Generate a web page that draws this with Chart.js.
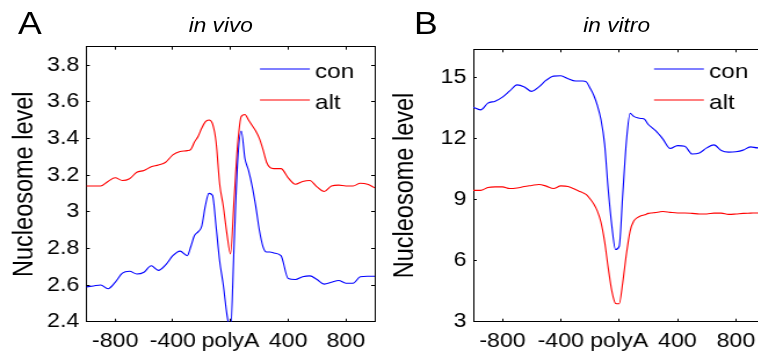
<!DOCTYPE html>
<html>
<head>
<meta charset="utf-8">
<script src="https://cdn.jsdelivr.net/npm/chart.js@4.4.0/dist/chart.umd.min.js"></script>
<style>
  html, body { margin: 0; padding: 0; background: #fff; }
  body { width: 758px; height: 356px; overflow: hidden; position: relative; }
  /* the source figure is stretched sideways, so the whole stage is too */
  #stage { position: absolute; left: 0; top: 0; width: 680px; height: 356px;
           transform: scaleX(1.16); transform-origin: 0 0;
           font-family: "Liberation Sans", Arial, sans-serif; color: #000; }
  #stage canvas { position: absolute; top: 0; }
  .panel { position: absolute; font-size: 30.7px; line-height: 1; }
  .title { position: absolute; width: 200px; text-align: center; font-style: italic; font-size: 19.5px; line-height: 1; }
</style>
</head>
<body>
<div id="stage">
  <div class="panel" style="left:15.5px; top:9px">A</div>
  <div class="title" style="left:90.3px; top:15.8px">in vivo</div>
  <canvas id="vivo" width="328" height="356" style="left:0"></canvas>
  <div class="panel" style="left:357px; top:9px">B</div>
  <div class="title" style="left:431.6px; top:15.8px">in vitro</div>
  <canvas id="vitro" width="345" height="356" style="left:328px"></canvas>
</div>
<script>
// distance to the polyA site (bp)
const pos = [-1000, -950, -900, -850, -800, -750, -700, -650, -600, -550, -500, -450, -400, -350, -300,
  -275, -250, -225, -200, -175, -150, -125, -100, -75, -50, -25, 0, 25, 50, 75, 100, 125, 150, 175, 200, 225, 250, 275,
  300, 350, 400, 450, 500, 550, 600, 650, 700, 750, 800, 850, 900, 950, 1000];

// in vivo
const vivoCon = [2.59, 2.595, 2.60, 2.58, 2.615, 2.665, 2.675, 2.66, 2.67, 2.705, 2.68, 2.71, 2.76, 2.785, 2.76,
  2.81, 2.87, 2.89, 2.92, 3.03, 3.10, 3.09, 2.92, 2.73, 2.60, 2.44, 2.35, 2.82, 3.28, 3.44, 3.29, 3.225, 3.14, 3.03, 2.90, 2.81, 2.78, 2.78,
  2.775, 2.76, 2.635, 2.63, 2.645, 2.65, 2.63, 2.605, 2.615, 2.625, 2.61, 2.61, 2.645, 2.648, 2.648];
const vivoAlt = [3.14, 3.14, 3.14, 3.165, 3.185, 3.17, 3.18, 3.215, 3.225, 3.245, 3.255, 3.27, 3.31, 3.328, 3.333,
  3.34, 3.38, 3.41, 3.455, 3.49, 3.50, 3.48, 3.38, 3.15, 3.03, 2.88, 2.77, 3.07, 3.37, 3.52, 3.53, 3.50, 3.47, 3.44, 3.40, 3.34, 3.27, 3.24,
  3.235, 3.235, 3.185, 3.15, 3.165, 3.17, 3.135, 3.11, 3.14, 3.145, 3.14, 3.14, 3.155, 3.15, 3.13];

// in vitro
const vitroCon = [13.55, 13.42, 13.75, 13.85, 14.05, 14.35, 14.65, 14.55, 14.33, 14.55, 14.88, 15.08, 15.10, 14.95, 14.84,
  14.84, 14.84, 14.80, 14.50, 14.15, 13.65, 12.95, 11.75, 9.5, 7.7, 6.55, 6.7, 9.3, 11.9, 13.25, 13.1, 13.03, 13.0, 12.95, 12.7, 12.55, 12.4, 12.2,
  11.98, 11.52, 11.66, 11.63, 11.25, 11.30, 11.55, 11.70, 11.42, 11.34, 11.36, 11.44, 11.60, 11.55, 11.55];
const vitroAlt = [9.46, 9.46, 9.60, 9.63, 9.63, 9.55, 9.58, 9.65, 9.70, 9.75, 9.67, 9.55, 9.68, 9.65, 9.50,
  9.42, 9.35, 9.25, 9.05, 8.80, 8.45, 7.90, 6.95, 5.65, 4.50, 3.90, 3.88, 4.95, 6.35, 7.46, 7.95, 8.12, 8.21, 8.26, 8.33, 8.35, 8.37, 8.40,
  8.42, 8.38, 8.35, 8.35, 8.33, 8.30, 8.30, 8.34, 8.34, 8.28, 8.30, 8.33, 8.34, 8.35, 8.35];

const xTickValues = [-800, -400, 0, 400, 800];
const xTickLabels = ['-800', '-400', 'polyA', '400', '800'];
const vivoTicks = [2.4, 2.6, 2.8, 3, 3.2, 3.4, 3.6, 3.8];
const vitroTicks = [3, 6, 9, 12, 15];

Chart.defaults.font.family = '"Liberation Sans", Arial, sans-serif';
Chart.defaults.color = '#000';

// legend drawn inside the axes box, like the matlab one
const insideLegend = {
  id: 'insideLegend',
  afterDatasetsDraw(chart, args, opts) {
    const ctx = chart.ctx;
    ctx.save();
    ctx.font = '21px "Liberation Sans", Arial, sans-serif';
    chart.data.datasets.forEach((ds, i) => {
      const y = opts.top + i * opts.rowGap;
      ctx.strokeStyle = ds.borderColor;
      ctx.lineWidth = ds.borderWidth;
      ctx.beginPath();
      ctx.moveTo(opts.left, y);
      ctx.lineTo(opts.left + opts.lineLen, y);
      ctx.stroke();
      ctx.fillStyle = '#000';
      ctx.fillText(ds.label, opts.left + opts.lineLen + 4.4, y + 9);
    });
    ctx.restore();
  }
};

const gridOpts = { drawOnChartArea: false, drawTicks: true, tickLength: -3, color: '#000' };
const borderOpts = { color: '#000', width: 1 };

function makePanel(id, con, alt, yTicks, yMin, yMax, box, legendLeft) {
  const setTicks = vals => scale => { scale.ticks = vals.map(v => ({ value: v })); };
  const line = { borderWidth: 1.1, pointRadius: 0, cubicInterpolationMode: 'monotone' };
  return new Chart(document.getElementById(id), {
    type: 'line',
    data: {
      datasets: [
        Object.assign({ label: 'con', data: pos.map((x, i) => ({ x: x, y: con[i] })), borderColor: '#0000ff' }, line),
        Object.assign({ label: 'alt', data: pos.map((x, i) => ({ x: x, y: alt[i] })), borderColor: '#ff0000' }, line)
      ]
    },
    options: {
      responsive: false,
      animation: false,
      devicePixelRatio: 1,
      layout: { padding: 0 },
      plugins: {
        legend: { display: false },
        tooltip: { enabled: false },
        insideLegend: { left: legendLeft, top: 69, rowGap: 31, lineLen: 43 }
      },
      scales: {
        x: {
          type: 'linear', position: 'bottom', min: -1000, max: 1000,
          afterBuildTicks: setTicks(xTickValues),
          ticks: { autoSkip: false, maxRotation: 0, padding: 10.8, font: { size: 20 },
                   callback: v => xTickLabels[xTickValues.indexOf(v)] },
          grid: gridOpts, border: borderOpts,
          afterFit: s => { s.height = box.bottom; }
        },
        x2: {
          type: 'linear', position: 'top', min: -1000, max: 1000,
          afterBuildTicks: setTicks(xTickValues),
          ticks: { display: false },
          grid: gridOpts, border: borderOpts,
          afterFit: s => { s.height = box.top; }
        },
        y: {
          type: 'linear', position: 'left', min: yMin, max: yMax,
          afterBuildTicks: setTicks(yTicks),
          ticks: { padding: 9, font: { size: 20 }, callback: v => String(v) },
          title: { display: true, text: 'Nucleosome level', font: { size: 23.5 }, padding: { top: 7 } },
          grid: gridOpts, border: borderOpts,
          afterFit: s => { s.width = box.left; }
        },
        y2: {
          type: 'linear', position: 'right', min: yMin, max: yMax,
          afterBuildTicks: setTicks(yTicks),
          ticks: { display: false },
          grid: gridOpts, border: borderOpts,
          afterFit: s => { s.width = box.right; }
        }
      }
    },
    plugins: [insideLegend]
  });
}

makePanel('vivo', vivoCon, vivoAlt, vivoTicks, 2.4, 3.9, { left: 74.4, right: 5, top: 46.7, bottom: 34.3 }, 224.1);
makePanel('vitro', vitroCon, vitroAlt, vitroTicks, 3, 16.4, { left: 80, right: 13.5, top: 49.3, bottom: 34.3 }, 235.8);
</script>
</body>
</html>
